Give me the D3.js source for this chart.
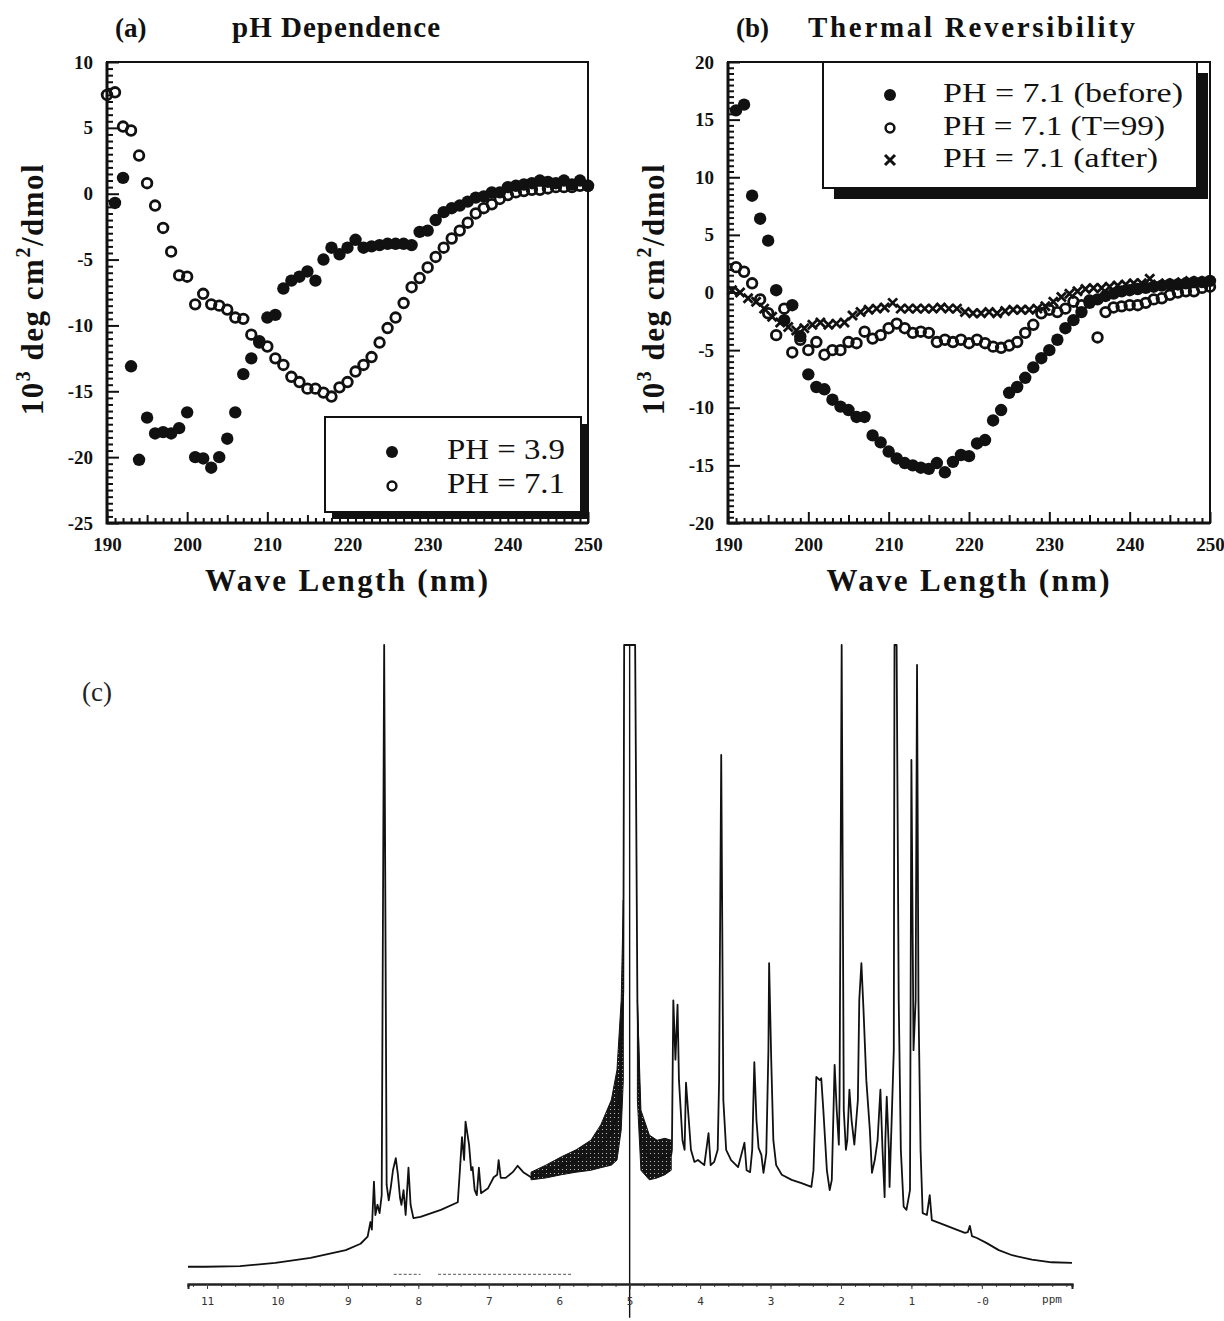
<!DOCTYPE html>
<html>
<head>
<meta charset="utf-8">
<script src="https://cdn.jsdelivr.net/npm/d3@7"></script>
<style>
  body { margin: 0; background: #fff; }
</style>
</head>
<body>
<svg id="fig" width="1224" height="1321"></svg>
<script>
const SERIF = '"Liberation Serif","Times New Roman",serif';

// ---- panel (a): pH dependence ----
const waveA71 = d3.range(190, 251);
const cdPH71 = [7.5, 7.7, 5.1, 4.8, 2.9, 0.8, -0.9, -2.6, -4.4, -6.2,
  -6.3, -8.4, -7.6, -8.4, -8.5, -8.8, -9.4, -9.5, -10.7, -11.3,
  -11.6, -12.5, -13.0, -13.9, -14.3, -14.8, -14.8, -15.1, -15.4, -14.7,
  -14.3, -13.5, -13.0, -12.4, -11.3, -10.2, -9.4, -8.3, -7.1, -6.4,
  -5.6, -4.8, -4.1, -3.4, -2.8, -2.2, -1.5, -1.1, -0.8, -0.4,
  -0.1, 0.1, 0.2, 0.3, 0.3, 0.4, 0.5, 0.5, 0.5, 0.6,
  0.6];
const waveA39 = d3.range(191, 251);
const cdPH39 = [-0.7, 1.2, -13.1, -20.2, -17.0, -18.2, -18.1, -18.2, -17.8,
  -16.6, -20.0, -20.1, -20.8, -20.0, -18.6, -16.6, -13.7, -12.5, -11.2,
  -9.4, -9.2, -7.2, -6.6, -6.3, -5.9, -6.6, -5.0, -4.1, -4.6,
  -4.1, -3.5, -4.1, -4.0, -3.9, -3.8, -3.8, -3.8, -3.9, -2.9,
  -2.8, -2.0, -1.4, -1.1, -0.9, -0.6, -0.3, -0.2, 0.1, 0.1,
  0.5, 0.6, 0.7, 0.8, 1.0, 0.9, 0.8, 1.0, 0.7, 1.0,
  0.6];

// ---- panel (b): thermal reversibility ----
const waveB = d3.range(191, 251);
const cdBefore = [15.8, 16.3, 8.4, 6.4, 4.5, 0.2, -2.4, -1.1, -3.8,
  -7.1, -8.2, -8.4, -9.3, -9.9, -10.2, -10.8, -10.8, -12.4, -13.0,
  -13.8, -14.4, -14.8, -15.0, -15.2, -15.3, -14.8, -15.6, -14.7, -14.1,
  -14.2, -13.1, -12.8, -11.1, -10.2, -8.7, -8.2, -7.4, -6.5, -5.7,
  -5.0, -4.1, -3.1, -2.4, -1.7, -0.9, -0.6, -0.3, -0.1, 0.1,
  0.2, 0.3, 0.4, 0.5, 0.6, 0.7, 0.7, 0.8, 0.9, 0.9,
  1.0];
const cdT99 = [2.2, 1.8, 0.8, -0.6, -1.8, -3.7, -1.4, -5.2, -4.1,
  -5.0, -4.3, -5.4, -5.0, -5.0, -4.3, -4.4, -3.4, -4.0, -3.7,
  -3.1, -2.7, -3.1, -3.5, -3.4, -3.5, -4.3, -4.1, -4.3, -4.1,
  -4.4, -4.1, -4.4, -4.7, -4.8, -4.6, -4.3, -3.5, -2.8, -1.8,
  -1.5, -1.7, -1.4, -0.8, -1.1, -0.7, -3.9, -1.7, -1.3, -1.2,
  -1.1, -1.1, -0.9, -0.6, -0.5, -0.2, 0.0, 0.1, 0.1, 0.4,
  0.5];
const waveAfter = d3.range(190.5, 250, 1);
const cdAfter = [0.2, 0.0, -0.5, -0.8, -1.4, -2.1, -2.6, -3.0, -3.3, -3.1,
  -2.8, -2.6, -2.8, -2.7, -2.6, -2.0, -1.7, -1.5, -1.4, -1.3,
  -0.9, -1.4, -1.4, -1.4, -1.4, -1.4, -1.3, -1.4, -1.4, -1.7,
  -1.8, -1.8, -1.7, -1.8, -1.6, -1.5, -1.5, -1.5, -1.4, -1.2,
  -0.8, -0.4, -0.1, 0.1, 0.3, 0.4, 0.4, 0.5, 0.6, 0.7,
  0.8, 0.8, 1.2, 0.7, 0.8, 0.8, 0.9, 1.0, 1.0, 1.0];

const xTicksCD = [190, 200, 210, 220, 230, 240, 250];
const yTicksA = [10, 5, 0, -5, -10, -15, -20, -25];
const yTicksB = [20, 15, 10, 5, 0, -5, -10, -15, -20];

// ---- panel (c): 1H NMR spectrum (ppm, relative intensity, top clipped at 100) ----
const nmrPpm = [11.27, 11.02, 10.53, 10.03, 9.53, 9.03, 8.82, 8.72, 8.68, 8.66,
  8.63, 8.61, 8.58, 8.55, 8.52, 8.485, 8.45, 8.42, 8.39, 8.36,
  8.32, 8.29, 8.26, 8.24, 8.21, 8.18, 8.14, 8.11, 8.07, 7.97,
  7.68, 7.44, 7.41, 7.38, 7.35, 7.33, 7.28, 7.25, 7.23, 7.20,
  7.17, 7.14, 7.11, 7.01, 6.93, 6.88, 6.86, 6.83, 6.76, 6.66,
  6.59, 6.51, 6.40, 6.19, 5.97, 5.76, 5.55, 5.41, 5.26, 5.18,
  5.12, 5.09, 5.078, 4.922, 4.89, 4.86, 4.84, 4.72, 4.61, 4.50,
  4.41, 4.40, 4.38, 4.35, 4.32, 4.30, 4.25, 4.22, 4.20, 4.15,
  4.13, 4.08, 4.03, 3.94, 3.88, 3.85, 3.80, 3.75, 3.73, 3.70,
  3.67, 3.63, 3.56, 3.46, 3.37, 3.34, 3.29, 3.26, 3.23, 3.20,
  3.17, 3.13, 3.10, 3.06, 3.03, 3.02, 2.99, 2.96, 2.92, 2.84,
  2.70, 2.56, 2.42, 2.39, 2.35, 2.30, 2.28, 2.25, 2.20, 2.16,
  2.13, 2.09, 2.06, 2.03, 2.02, 1.99, 1.96, 1.93, 1.91, 1.88,
  1.85, 1.81, 1.76, 1.74, 1.71, 1.68, 1.64, 1.59, 1.56, 1.52,
  1.48, 1.44, 1.41, 1.38, 1.37, 1.35, 1.32, 1.31, 1.28, 1.25,
  1.24, 1.21, 1.18, 1.15, 1.11, 1.07, 1.02, 1.00, 0.97, 0.94,
  0.92, 0.90, 0.87, 0.84, 0.78, 0.74, 0.71, 0.57, 0.36, 0.24,
  0.20, 0.17, 0.14, 0.07, -0.07, -0.24, -0.43, -0.71, -0.99, -1.28];
const nmrInt = [2.7, 2.7, 2.8, 3.3, 4.1, 5.3, 6.3, 7.4, 9.7, 8.5,
  16.0, 10.8, 12.4, 11.1, 13.9, 100, 15.5, 13.1, 15.2, 17.8,
  19.7, 17.1, 13.5, 12.4, 14.7, 10.8, 18.2, 12.4, 10.3, 10.5,
  11.6, 12.8, 17.8, 23.0, 19.4, 25.4, 21.8, 17.8, 18.3, 14.7,
  13.9, 18.2, 14.2, 15.0, 16.7, 17.1, 19.4, 16.6, 16.6, 17.5,
  18.5, 17.5, 16.7, 17.6, 18.5, 19.3, 20.2, 21.5, 23.7, 26.5,
  34.0, 46.0, 100, 100, 44.4, 28.8, 22.5, 19.8, 19.5, 20.0,
  20.2, 21.0, 44.4, 35.1, 43.7, 31.9, 22.5, 21.0, 31.5, 24.1,
  21.0, 19.1, 19.4, 18.6, 23.6, 18.6, 19.1, 21.0, 31.9, 82.8,
  28.8, 21.0, 19.4, 18.3, 22.1, 17.8, 17.5, 21.0, 34.7, 25.7,
  21.3, 20.2, 17.4, 20.5, 36.6, 50.2, 35.1, 22.5, 18.6, 17.1,
  16.3, 15.8, 15.2, 17.8, 32.4, 31.9, 32.2, 27.2, 17.8, 14.7,
  16.3, 34.3, 27.2, 21.8, 28.8, 100, 27.2, 21.0, 22.5, 30.4,
  25.7, 21.8, 28.8, 44.4, 50.2, 42.9, 31.9, 24.1, 17.4, 19.4,
  22.5, 30.4, 21.0, 13.6, 22.5, 29.3, 21.0, 15.2, 25.7, 36.6,
  100, 100, 44.4, 21.0, 12.1, 11.6, 14.7, 82.0, 36.6, 44.4,
  96.9, 44.4, 21.0, 11.1, 10.8, 13.9, 10.0, 9.4, 8.5, 8.0,
  8.1, 9.1, 7.5, 7.2, 6.4, 5.3, 4.5, 3.8, 3.4, 3.3];

// noisy envelopes either side of the water signal
const bandLeftPpm = [6.40, 6.19, 5.97, 5.76, 5.55, 5.41, 5.26, 5.18, 5.12, 5.09];
const bandLeftLo = [16.3, 16.6, 17.1, 17.5, 17.8, 18.2, 18.6, 19.4, 24.1, 31.9];
const bandLeftHi = [17.5, 18.6, 19.9, 21.0, 22.5, 24.9, 28.8, 33.5, 44.4, 60.1];
const bandRightPpm = [4.89, 4.84, 4.72, 4.61, 4.50, 4.41];
const bandRightLo = [28.8, 17.8, 16.3, 16.6, 17.1, 17.8];
const bandRightHi = [44.4, 27.2, 23.3, 22.5, 22.8, 22.5];

// faint integral trace under the aromatic region
const integralSegments = [[8.35, 7.97], [7.72, 5.83]];

const nmrTicks = [11, 10, 9, 8, 7, 6, 5, 4, 3, 2, 1, 0];
const nmrTickLabels = ["11", "10", "9", "8", "7", "6", "5", "4", "3", "2", "1", "-0"];

const svg = d3.select("#fig");

const defs = svg.append("defs");
const pat = defs.append("pattern").attr("id", "noise")
  .attr("width", 4).attr("height", 4).attr("patternUnits", "userSpaceOnUse");
pat.append("rect").attr("width", 4).attr("height", 4).attr("fill", "#151515");
pat.append("rect").attr("x", 2).attr("y", 1).attr("width", 1).attr("height", 1).attr("fill", "#bbb");

function cdPanel(p) {
  const x = d3.scaleLinear().domain([190, 250]).range([p.left, p.right]);
  const y = d3.scaleLinear().domain(p.yDomain).range([p.bottom, p.top]);
  const g = svg.append("g");

  const yMinor = d3.range(p.yDomain[0], p.yDomain[1] + 0.01, 0.5).filter(v => v % 5 !== 0);
  g.append("g").attr("transform", `translate(${p.left},0)`)
    .call(d3.axisLeft(y).tickValues(yMinor).tickSize(-6).tickFormat(""));
  g.append("g").attr("transform", `translate(${p.left},0)`)
    .call(d3.axisLeft(y).tickValues(p.yTicks).tickSize(-12).tickPadding(14).tickFormat(d => String(d)));

  const xMinor = d3.range(191, 250).filter(v => v % 10 !== 0);
  g.append("g").attr("transform", `translate(0,${p.bottom})`)
    .call(d3.axisBottom(x).tickValues(xMinor).tickSize(-5).tickFormat(""))
    .selectAll(".tick line").attr("y2", d => d % 5 === 0 ? -8 : -5);
  g.append("g").attr("transform", `translate(0,${p.bottom})`)
    .call(d3.axisBottom(x).tickValues(xTicksCD).tickSize(-11).tickPadding(15).tickFormat(d => String(d)));

  g.selectAll(".domain").remove();
  g.selectAll(".tick line").attr("stroke", "#111").attr("stroke-width", 2);
  g.selectAll(".tick text").attr("font-family", SERIF).attr("font-weight", "bold")
    .attr("font-size", 19).attr("fill", "#111");

  g.append("rect").attr("x", p.left).attr("y", p.top)
    .attr("width", p.right - p.left).attr("height", p.bottom - p.top)
    .attr("fill", "none").attr("stroke", "#111").attr("stroke-width", 2);
  g.append("path").attr("d", `M${p.left},${p.top}V${p.bottom}H${p.right}`)
    .attr("fill", "none").attr("stroke", "#111").attr("stroke-width", 3);

  // titles
  g.append("text").attr("x", p.tagX).attr("y", 37).text(p.tag)
    .attr("font-family", SERIF).attr("font-weight", "bold").attr("font-size", 27).attr("fill", "#111");
  g.append("text").attr("x", p.titleX).attr("y", 37).text(p.title)
    .attr("font-family", SERIF).attr("font-weight", "bold").attr("font-size", 29).attr("fill", "#111")
    .attr("textLength", p.titleW).attr("lengthAdjust", "spacing");

  // axis titles
  g.append("text").attr("x", (p.left + p.right) / 2 - 1).attr("y", 591).attr("text-anchor", "middle")
    .attr("font-family", SERIF).attr("font-weight", "bold").attr("font-size", 31).attr("fill", "#111")
    .attr("textLength", 283).attr("lengthAdjust", "spacing")
    .text("Wave Length (nm)");
  const yl = g.append("text")
    .attr("transform", `translate(${p.left - 64},289) rotate(-90)`)
    .attr("text-anchor", "middle")
    .attr("font-family", SERIF).attr("font-weight", "bold").attr("font-size", 31).attr("fill", "#111")
    .attr("letter-spacing", 1.5);
  yl.append("tspan").text("10");
  yl.append("tspan").attr("dy", -13).attr("font-size", 20).text("3");
  yl.append("tspan").attr("dy", 13).text(" deg cm");
  yl.append("tspan").attr("dy", -13).attr("font-size", 20).text("2");
  yl.append("tspan").attr("dy", 13).text("/dmol");

  return { g, x, y };
}

function drawFilled(g, x, y, xs, vs, r) {
  g.append("g").selectAll("circle").data(vs).join("circle")
    .attr("cx", (d, i) => x(xs[i])).attr("cy", d => y(d)).attr("r", r).attr("fill", "#111");
}
function drawOpen(g, x, y, xs, vs, r) {
  g.append("g").selectAll("circle").data(vs).join("circle")
    .attr("cx", (d, i) => x(xs[i])).attr("cy", d => y(d)).attr("r", r)
    .attr("fill", "none").attr("stroke", "#111").attr("stroke-width", 2.8);
}
function drawCross(g, x, y, xs, vs, s) {
  g.append("g").selectAll("path").data(vs).join("path")
    .attr("transform", (d, i) => `translate(${x(xs[i])},${y(d)})`)
    .attr("d", `M${-s},${-s}L${s},${s}M${-s},${s}L${s},${-s}`)
    .attr("stroke", "#111").attr("stroke-width", 2.8);
}

function legend(p) {
  svg.append("rect").attr("x", p.x + p.sh).attr("y", p.y + p.sh)
    .attr("width", p.w).attr("height", p.h).attr("fill", "#111");
  svg.append("rect").attr("x", p.x).attr("y", p.y).attr("width", p.w).attr("height", p.h)
    .attr("fill", "#fff").attr("stroke", "#111").attr("stroke-width", 2);
  p.items.forEach(it => {
    const c = it.cy;
    if (it.sym === "filled") {
      svg.append("circle").attr("cx", p.symX).attr("cy", c).attr("r", 6).attr("fill", "#111");
    } else if (it.sym === "open") {
      svg.append("circle").attr("cx", p.symX).attr("cy", c).attr("r", 4.4)
        .attr("fill", "none").attr("stroke", "#111").attr("stroke-width", 2.5);
    } else {
      svg.append("path").attr("transform", `translate(${p.symX},${c})`)
        .attr("d", "M-5,-5L5,5M-5,5L5,-5").attr("stroke", "#111").attr("stroke-width", 3);
    }
    svg.append("text").attr("x", p.textX).attr("y", c + 7).text(it.label)
      .attr("font-family", SERIF).attr("font-size", p.fs).attr("fill", "#111")
      .attr("textLength", it.len).attr("lengthAdjust", "spacingAndGlyphs");
  });
}

// panel (a)
const A = cdPanel({ left: 107, right: 588, top: 62, bottom: 523, yDomain: [-25, 10], yTicks: yTicksA,
  tag: "(a)", tagX: 115, title: "pH Dependence", titleX: 232, titleW: 208 });
drawOpen(A.g, A.x, A.y, waveA71, cdPH71, 4.8);
drawFilled(A.g, A.x, A.y, waveA39, cdPH39, 6.2);
legend({ x: 325, y: 417, w: 256, h: 95, sh: 7, symX: 392, textX: 447, fs: 30,
  items: [{ sym: "filled", label: "PH = 3.9", cy: 452, len: 118 },
          { sym: "open", label: "PH = 7.1", cy: 486, len: 118 }] });

// panel (b)
const B = cdPanel({ left: 728, right: 1210, top: 62, bottom: 523, yDomain: [-20, 20], yTicks: yTicksB,
  tag: "(b)", tagX: 736, title: "Thermal Reversibility", titleX: 808, titleW: 327 });
drawFilled(B.g, B.x, B.y, waveB, cdBefore, 6.2);
drawOpen(B.g, B.x, B.y, waveB, cdT99, 4.8);
drawCross(B.g, B.x, B.y, waveAfter, cdAfter, 4.5);
legend({ x: 823, y: 62, w: 374, h: 126, sh: 11, symX: 890, textX: 943, fs: 28,
  items: [{ sym: "filled", label: "PH = 7.1 (before)", cy: 95, len: 240 },
          { sym: "open", label: "PH = 7.1 (T=99)", cy: 128, len: 222 },
          { sym: "cross", label: "PH = 7.1 (after)", cy: 160, len: 215 }] });

// panel (c)
const xN = d3.scaleLinear().domain([11.27, -1.28]).range([188, 1072]);
const yN = d3.scaleLinear().domain([0, 100]).range([1284, 645]);
const gN = svg.append("g");

gN.append("text").attr("x", 82).attr("y", 701).text("(c)")
  .attr("font-family", SERIF).attr("font-size", 27).attr("fill", "#222");

const band = d3.area().x(d => xN(d.p)).y0(d => yN(d.lo)).y1(d => yN(d.hi));
gN.append("path").datum(bandLeftPpm.map((p, i) => ({ p, lo: bandLeftLo[i], hi: bandLeftHi[i] })))
  .attr("d", band).attr("fill", "url(#noise)").attr("stroke", "#111").attr("stroke-width", 1);
gN.append("path").datum(bandRightPpm.map((p, i) => ({ p, lo: bandRightLo[i], hi: bandRightHi[i] })))
  .attr("d", band).attr("fill", "url(#noise)").attr("stroke", "#111").attr("stroke-width", 1);

gN.append("path").datum(nmrPpm.map((p, i) => [p, nmrInt[i]]))
  .attr("d", d3.line().x(d => xN(d[0])).y(d => yN(d[1])))
  .attr("fill", "none").attr("stroke", "#111").attr("stroke-width", 1.8).attr("stroke-linejoin", "round");

// solvent reference line
gN.append("line").attr("x1", xN(5)).attr("x2", xN(5)).attr("y1", yN(100)).attr("y2", yN(-5.3))
  .attr("stroke", "#111").attr("stroke-width", 1.4);

integralSegments.forEach(s => {
  gN.append("line").attr("x1", xN(s[0])).attr("x2", xN(s[1])).attr("y1", yN(1.5)).attr("y2", yN(1.5))
    .attr("stroke", "#777").attr("stroke-width", 1.2).attr("stroke-dasharray", "3,2");
});

gN.append("g").attr("transform", "translate(0,1284)")
  .call(d3.axisBottom(xN).tickValues(d3.range(-1.2, 11.21, 0.2)).tickSize(3).tickFormat(""));
const nAx = gN.append("g").attr("transform", "translate(0,1284)")
  .call(d3.axisBottom(xN).tickValues(nmrTicks).tickFormat((d, i) => nmrTickLabels[i]).tickSize(5).tickPadding(8));
gN.selectAll(".domain").attr("stroke", "#222").attr("stroke-width", 2);
gN.selectAll(".tick line").attr("stroke", "#444").attr("stroke-width", 1);
nAx.selectAll(".tick text").attr("font-family", '"DejaVu Sans Mono", monospace')
  .attr("font-size", 11).attr("fill", "#333");
gN.append("text").attr("x", 1052).attr("y", 1303).attr("text-anchor", "middle").text("ppm")
  .attr("font-family", '"DejaVu Sans Mono", monospace').attr("font-size", 11).attr("fill", "#333");
</script>
</body>
</html>
